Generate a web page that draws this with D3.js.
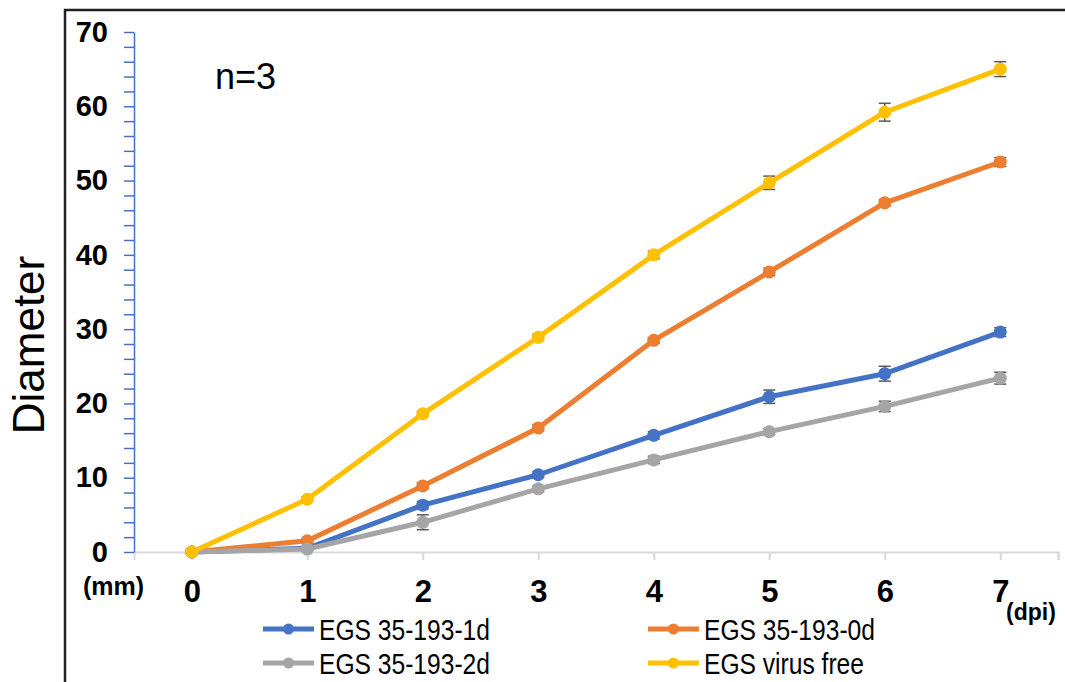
<!DOCTYPE html>
<html>
<head>
<meta charset="utf-8">
<script src="https://cdn.jsdelivr.net/npm/d3@7"></script>
<style>
  body { margin: 0; background: #fff; }
  svg { display: block; }
</style>
</head>
<body>
<script>
const days = [0, 1, 2, 3, 4, 5, 6, 7];

const s1d     = [0, 0.5, 6.3, 10.4, 15.7, 20.9, 24.0, 29.6];
const s1dErr  = [0, 0.2, 0.5, 0.4, 0.5, 0.9, 1.0, 0.6];
const s0d     = [0, 1.5, 8.9, 16.7, 28.5, 37.7, 47.0, 52.5];
const s0dErr  = [0, 0.3, 0.4, 0.4, 0.4, 0.5, 0.4, 0.6];
const s2d     = [0, 0.4, 4.0, 8.5, 12.4, 16.2, 19.6, 23.4];
const s2dErr  = [0, 0.2, 1.0, 0.4, 0.5, 0.4, 0.7, 0.8];
const sFree   = [0, 7.1, 18.6, 28.9, 40.0, 49.7, 59.2, 65.0];
const sFreeErr = [0, 0.3, 0.3, 0.4, 0.5, 0.9, 1.2, 1.0];

const seriesNames = ["EGS 35-193-1d", "EGS 35-193-0d", "EGS 35-193-2d", "EGS virus free"];
const colors = ["#4472C4", "#ED7D31", "#A5A5A5", "#FFC000"];

const series = [
  { name: seriesNames[0], vals: s1d, err: s1dErr, color: colors[0] },
  { name: seriesNames[1], vals: s0d, err: s0dErr, color: colors[1] },
  { name: seriesNames[2], vals: s2d, err: s2dErr, color: colors[2] },
  { name: seriesNames[3], vals: sFree, err: sFreeErr, color: colors[3] }
];

const W = 1065, H = 682;

const svg = d3.select("body").append("svg")
    .attr("width", W)
    .attr("height", H);

// frame (top + left edges only)
svg.append("path")
    .attr("d", "M65,682V10H1065")
    .attr("fill", "none")
    .attr("stroke", "#222")
    .attr("stroke-width", 2.5);

const x = d3.scaleLinear().domain([-0.5, 7.5]).range([134, 1058]);
const y = d3.scaleLinear().domain([0, 70]).range([552, 32]);

// x axis (light gray)
const xAxis = svg.append("g")
    .attr("transform", `translate(0,${y(0)})`)
    .call(d3.axisBottom(x)
      .tickValues(days.concat([7.5]))
      .tickSize(8)
      .tickFormat(d => d === 7.5 ? "" : d));
xAxis.select(".domain").attr("stroke", "#d9d9d9").attr("stroke-width", 2);
xAxis.selectAll(".tick line").attr("stroke", "#d9d9d9").attr("stroke-width", 2);
xAxis.selectAll(".tick text")
    .attr("y", 28)
    .attr("dy", "0.71em")
    .attr("fill", "#000")
    .attr("font-family", "Liberation Sans, Arial, sans-serif")
    .attr("font-weight", "bold")
    .attr("font-size", 31);

// y axis (blue, minor ticks every 2)
const yAxis = svg.append("g")
    .attr("transform", `translate(${x(-0.5)},0)`)
    .call(d3.axisLeft(y)
      .tickValues(d3.range(0, 71, 2))
      .tickSize(10)
      .tickSizeOuter(0)
      .tickPadding(16)
      .tickFormat(d => d % 10 === 0 ? d : ""));
yAxis.select(".domain").attr("stroke", "#4472C4").attr("stroke-width", 1.5);
yAxis.selectAll(".tick line").attr("stroke", "#4472C4").attr("stroke-width", 1.5);
yAxis.selectAll(".tick text")
    .attr("fill", "#000")
    .attr("font-family", "Liberation Sans, Arial, sans-serif")
    .attr("font-weight", "bold")
    .attr("font-size", 29);

// error bars
const eb = svg.append("g").attr("stroke", "#595959").attr("stroke-width", 1.5);
series.forEach(s => {
  s.vals.forEach((v, i) => {
    if (!s.err[i]) return;
    const cx = x(days[i]), y1 = y(v + s.err[i]), y2 = y(v - s.err[i]);
    eb.append("line").attr("x1", cx).attr("x2", cx).attr("y1", y1).attr("y2", y2);
    eb.append("line").attr("x1", cx - 6).attr("x2", cx + 6).attr("y1", y1).attr("y2", y1);
    eb.append("line").attr("x1", cx - 6).attr("x2", cx + 6).attr("y1", y2).attr("y2", y2);
  });
});

// lines + markers
const line = d3.line()
    .x((d, i) => x(days[i]))
    .y(d => y(d));

series.forEach(s => {
  const g = svg.append("g");
  g.append("path")
      .datum(s.vals)
      .attr("d", line)
      .attr("fill", "none")
      .attr("stroke", s.color)
      .attr("stroke-width", 5)
      .attr("stroke-linejoin", "round");
  g.selectAll("circle")
    .data(s.vals)
    .join("circle")
      .attr("cx", (d, i) => x(days[i]))
      .attr("cy", d => y(d))
      .attr("r", 6.5)
      .attr("fill", s.color);
});

// axis titles and notes
svg.append("text")
    .attr("transform", "translate(44,345) rotate(-90)")
    .attr("text-anchor", "middle")
    .attr("font-family", "Liberation Sans, Arial, sans-serif")
    .attr("font-size", 44)
    .text("Diameter");

svg.append("text")
    .attr("x", 215)
    .attr("y", 89)
    .attr("font-family", "Liberation Sans, Arial, sans-serif")
    .attr("font-size", 36)
    .text("n=3");

svg.append("text")
    .attr("x", 83)
    .attr("y", 595)
    .attr("font-family", "Liberation Sans, Arial, sans-serif")
    .attr("font-weight", "bold")
    .attr("font-size", 25)
    .text("(mm)");

svg.append("text")
    .attr("x", 1006)
    .attr("y", 620)
    .attr("font-family", "Liberation Sans, Arial, sans-serif")
    .attr("font-weight", "bold")
    .attr("font-size", 23)
    .text("(dpi)");

// legend, two columns
const legendPos = [
  { lx: 263, ly: 629 },
  { lx: 648, ly: 629 },
  { lx: 263, ly: 663 },
  { lx: 648, ly: 663 }
];

const legend = svg.append("g")
  .selectAll("g")
  .data(series)
  .join("g")
    .attr("transform", (d, i) => `translate(${legendPos[i].lx},${legendPos[i].ly})`);

legend.append("line")
    .attr("x1", 0).attr("x2", 51)
    .attr("stroke", d => d.color)
    .attr("stroke-width", 5);

legend.append("circle")
    .attr("cx", 25.5)
    .attr("r", 5.5)
    .attr("fill", d => d.color);

// narrow look: squeeze regular glyphs horizontally
legend.append("text")
    .attr("x", 56)
    .attr("dy", "0.36em")
    .attr("font-family", "Liberation Sans, Arial, sans-serif")
    .attr("font-size", 30)
    .text(d => d.name)
    .each(function() {
      const w = this.getComputedTextLength();
      d3.select(this)
        .attr("textLength", w * 0.82)
        .attr("lengthAdjust", "spacingAndGlyphs");
    });
</script>
</body>
</html>
